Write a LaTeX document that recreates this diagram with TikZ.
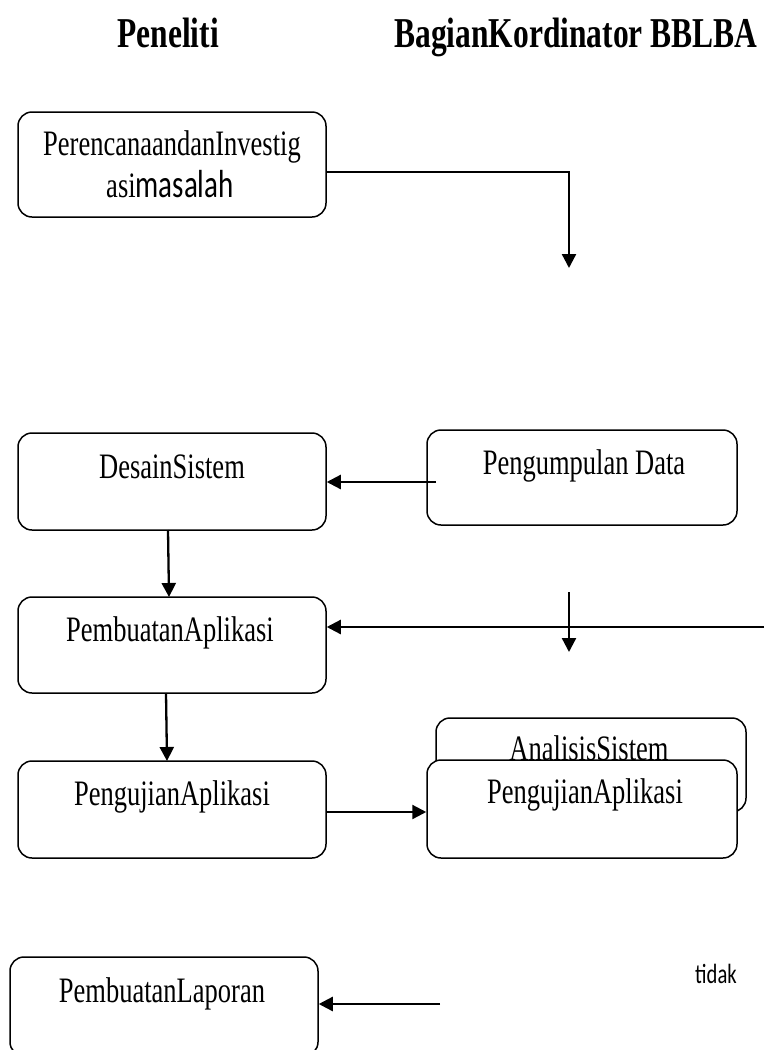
\documentclass[tikz,border=0pt]{standalone}
\usepackage{graphicx}
\usepackage{fontspec}
\setmainfont{Liberation Serif}
\newfontfamily\calib{Carlito}
\usetikzlibrary{arrows.meta}

% tall, narrow lettering used throughout the chart
\newcommand{\tall}[1]{\scalebox{1}[1.35]{#1}}

\begin{document}
\begin{tikzpicture}[x=1pt,y=-1pt,
  stage/.style={draw, line width=1.5pt, rounded corners=14pt, fill=white,
    inner sep=0pt, minimum width=308pt},
  label/.style={anchor=base, inner sep=0pt, font=\fontsize{26.5}{30}\selectfont},
  heading/.style={anchor=base, inner sep=0pt, font=\fontsize{31.5}{34}\selectfont\bfseries},
  flow/.style={line width=2.3pt, -{Triangle[length=14pt,width=14pt]}}]

\useasboundingbox (0,0) rectangle (764,1050);
\clip (0,0) rectangle (764,1050);

% column headings
\node[heading] (hpen) at (168,47) {\tall{Peneliti}};
\node[heading] (hbag) at (576,47) {\tall{BagianKordinator BBLBA}};

% stages
\node[stage, minimum height=105pt] (plan) at (172,164.5) {};
\node[label] (plant1) at (172,155) {\tall{PerencanaandanInvestig}};
\node[label] (plant2) at (170,197) {\tall{asi{\calib\fontsize{29}{32}\selectfont masalah}}};

\node[stage, minimum height=97pt] (desain) at (172,481.5) {};
\node[label] (desaint) at (172,478) {\tall{DesainSistem}};

\node[stage, minimum width=310pt, minimum height=95pt] (kumpul) at (582,477.5) {};
\node[label] (kumpult) at (584,474) {\tall{Pengumpulan Data}};

\node[stage, minimum height=96pt] (buat) at (172,645) {};
\node[label] (buatt) at (170,641) {\tall{PembuatanAplikasi}};

\node[stage, minimum height=97pt] (uji) at (172,809.5) {};
\node[label] (ujit) at (172,805) {\tall{PengujianAplikasi}};

\node[stage, minimum width=310pt, minimum height=94pt] (analisis) at (591,765) {};
\node[label] (analisist) at (589,760) {\tall{AnalisisSistem}};

\node[stage, minimum width=310pt, minimum height=98pt] (uji2) at (582,809) {};
\node[label] (uji2t) at (585,803) {\tall{PengujianAplikasi}};

\node[stage, minimum height=99pt] (lapor) at (164,1006.5) {};
\node[label] (laport) at (162,1002) {\tall{PembuatanLaporan}};

\node[anchor=base, inner sep=0pt, font=\calib\fontsize{20.6}{22}\selectfont] (tidak) at (716,983) {\tall{tidak}};

% free ends of the connectors
\coordinate (planend) at (569,268);
\coordinate (kumpulstart) at (436,482);
\coordinate (rightstart) at (764,627);
\coordinate (midtop) at (569,592);
\coordinate (midend) at (569,652);
\coordinate (laporstart) at (440,1004);

% connectors
\draw[flow] (plan.east |- 0,172) -| (planend);
\draw[flow] (kumpulstart) -- (desain.east |- kumpulstart);
\draw[flow] (168,530) -- (169,597);
\draw[flow] (rightstart) -- (buat.east |- rightstart);
\draw[flow] (midtop) -- (midend);
\draw[flow] (166,693) -- (167,761);
\draw[flow] (uji.east |- 0,812) -- (uji2.west |- 0,812);
\draw[flow] (laporstart) -- (lapor.east |- laporstart);

\end{tikzpicture}
\end{document}
